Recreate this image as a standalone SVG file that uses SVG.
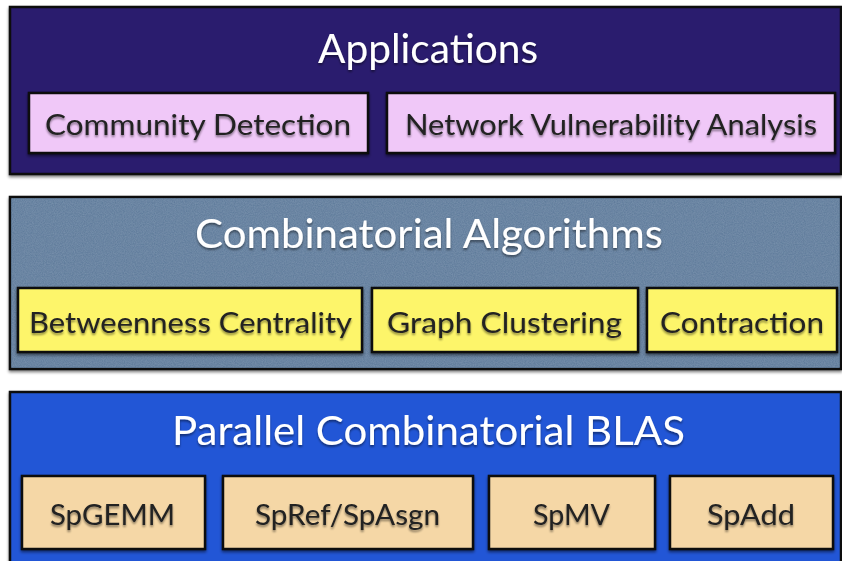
<svg xmlns="http://www.w3.org/2000/svg" width="842" height="561" viewBox="0 0 842 561">
<defs>
<style>
.panel{stroke:#111;stroke-width:2.5}
.box{stroke:#111;stroke-width:2.5}
.title{font-family:"Lato","Liberation Sans",sans-serif;font-size:41px;fill:#fff;text-anchor:start}
.lbl{font-family:"Lato","Liberation Sans",sans-serif;font-size:29px;fill:#222;text-anchor:start}
</style>
<filter id="sh" x="-5%" y="-10%" width="110%" height="130%">
<feGaussianBlur in="SourceAlpha" stdDeviation="1.5"/>
<feOffset dx="0" dy="1.5"/>
<feComponentTransfer><feFuncA type="linear" slope="0.5"/></feComponentTransfer>
<feMerge><feMergeNode/><feMergeNode in="SourceGraphic"/></feMerge>
</filter>
<filter id="tsh" x="-5%" y="-20%" width="110%" height="150%">
<feGaussianBlur in="SourceAlpha" stdDeviation="1.2"/>
<feOffset dx="0" dy="1.5"/>
<feComponentTransfer><feFuncA type="linear" slope="0.45"/></feComponentTransfer>
<feMerge><feMergeNode/><feMergeNode in="SourceGraphic"/></feMerge>
</filter>
<filter id="tex" x="0" y="0" width="100%" height="100%">
<feTurbulence type="fractalNoise" baseFrequency="0.9" numOctaves="2" seed="3" result="n"/>
<feColorMatrix in="n" type="matrix" values="0 0 0 0 0.35  0 0 0 0 0.47  0 0 0 0 0.6  0 0 0 0.35 0" result="c"/>
<feComposite in="c" in2="SourceGraphic" operator="in" result="ct"/>
<feMerge><feMergeNode in="SourceGraphic"/><feMergeNode in="ct"/></feMerge>
</filter>
</defs>
<rect width="842" height="561" fill="#fff"/>

<g id="applications">
<rect class="panel" x="10" y="7" width="831" height="167" fill="#2b1a6e" filter="url(#sh)"/>
<text class="title" x="318" y="63" textLength="220" lengthAdjust="spacingAndGlyphs" filter="url(#tsh)">Applications</text>
</g>
<g id="community-detection">
<rect class="box" x="29" y="93" width="339" height="60" fill="#f0c8f8" filter="url(#sh)"/>
<text class="lbl" x="45" y="135" textLength="306" lengthAdjust="spacingAndGlyphs" filter="url(#tsh)">Community Detection</text>
</g>
<g id="network-vulnerability-analysis">
<rect class="box" x="387" y="93" width="448" height="60" fill="#f0c8f8" filter="url(#sh)"/>
<text class="lbl" x="405" y="135" textLength="412" lengthAdjust="spacingAndGlyphs" filter="url(#tsh)">Network Vulnerability Analysis</text>
</g>

<g id="combinatorial-algorithms">
<rect class="panel" x="10" y="197" width="831" height="172" fill="#5b7899" filter="url(#sh)"/>
<rect x="11.5" y="198.5" width="828" height="169" fill="#5b7899" filter="url(#tex)"/>
<text class="title" x="195" y="248" textLength="468" lengthAdjust="spacingAndGlyphs" filter="url(#tsh)">Combinatorial Algorithms</text>
</g>
<g id="betweenness-centrality">
<rect class="box" x="18" y="288" width="344" height="64" fill="#fdf56a" filter="url(#sh)"/>
<text class="lbl" x="29" y="333" textLength="323" lengthAdjust="spacingAndGlyphs" filter="url(#tsh)">Betweenness Centrality</text>
</g>
<g id="graph-clustering">
<rect class="box" x="372" y="288" width="266" height="64" fill="#fdf56a" filter="url(#sh)"/>
<text class="lbl" x="387" y="333" textLength="235" lengthAdjust="spacingAndGlyphs" filter="url(#tsh)">Graph Clustering</text>
</g>
<g id="contraction">
<rect class="box" x="647" y="288" width="190" height="64" fill="#fdf56a" filter="url(#sh)"/>
<text class="lbl" x="660" y="333" textLength="164" lengthAdjust="spacingAndGlyphs" filter="url(#tsh)">Contraction</text>
</g>

<g id="parallel-combinatorial-blas">
<rect class="panel" x="10" y="392" width="831" height="180" fill="#2256d6" filter="url(#sh)"/>
<text class="title" x="172" y="445" textLength="513" lengthAdjust="spacingAndGlyphs" filter="url(#tsh)">Parallel Combinatorial BLAS</text>
</g>
<g id="spgemm">
<rect class="box" x="22" y="476" width="183" height="73" fill="#f5d7a6" filter="url(#sh)"/>
<text class="lbl" x="50" y="525" textLength="125" lengthAdjust="spacingAndGlyphs" filter="url(#tsh)">SpGEMM</text>
</g>
<g id="spref-spasgn">
<rect class="box" x="223" y="476" width="250" height="73" fill="#f5d7a6" filter="url(#sh)"/>
<text class="lbl" x="255" y="525" textLength="185" lengthAdjust="spacingAndGlyphs" filter="url(#tsh)">SpRef/SpAsgn</text>
</g>
<g id="spmv">
<rect class="box" x="489" y="476" width="166" height="73" fill="#f5d7a6" filter="url(#sh)"/>
<text class="lbl" x="533" y="525" textLength="77" lengthAdjust="spacingAndGlyphs" filter="url(#tsh)">SpMV</text>
</g>
<g id="spadd">
<rect class="box" x="670" y="476" width="163" height="73" fill="#f5d7a6" filter="url(#sh)"/>
<text class="lbl" x="707" y="525" textLength="88" lengthAdjust="spacingAndGlyphs" filter="url(#tsh)">SpAdd</text>
</g>
<g id="connectors"/>
</svg>
